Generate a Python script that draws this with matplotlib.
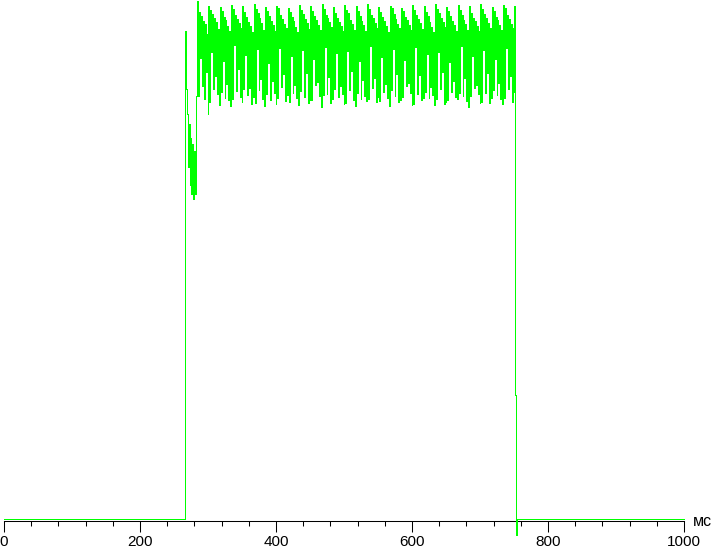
import numpy as np
import matplotlib.pyplot as plt
from matplotlib.ticker import MultipleLocator

plt.rcParams['font.family'] = ['Liberation Sans', 'DejaVu Sans']

# brightness trace, % of max, sampled at 12 points per 60 Hz cycle
rise_ms = 266.0
sample_ms = 16.667 / 12

# first ~18 ms after switch-on
pre_values = [94.2, 83.0, 78.2, 68.0, 76.3, 64.4, 73.6, 62.8, 72.4, 61.8, 71.1, 62.8, 81.7]

# one row per cycle, alternating top / bottom of each sample column
cycle_values = [
    [100.0, 81.7, 97.9, 89.0, 97.1, 83.6, 96.1, 81.1, 95.6, 86.3, 93.6, 78.2],
    [99.0, 80.5, 98.3, 90.2, 97.5, 83.0, 96.8, 85.5, 95.9, 82.1, 94.6, 80.0],
    [98.8, 82.4, 98.0, 88.5, 97.0, 81.2, 96.3, 84.0, 95.2, 80.8, 94.2, 79.8],
    [99.2, 81.0, 98.5, 91.5, 97.3, 82.6, 96.6, 86.8, 95.7, 81.5, 94.8, 80.6],
    [99.0, 83.1, 97.8, 89.6, 96.9, 81.9, 96.0, 83.3, 95.1, 80.2, 94.1, 81.4],
    [99.4, 80.3, 98.4, 90.8, 97.6, 82.8, 96.7, 85.0, 95.8, 81.0, 94.5, 79.7],
    [98.9, 82.0, 98.1, 88.0, 97.2, 80.9, 96.2, 84.6, 95.3, 82.3, 94.3, 80.1],
    [99.1, 81.3, 98.6, 91.0, 97.4, 83.4, 96.5, 85.9, 95.6, 80.7, 94.7, 81.8],
    [98.7, 80.6, 97.9, 89.3, 97.0, 82.2, 96.1, 83.8, 95.0, 81.2, 94.0, 79.9],
    [99.3, 82.7, 98.2, 90.5, 97.5, 81.5, 96.6, 86.2, 95.7, 80.4, 94.6, 80.8],
    [99.0, 80.9, 98.0, 88.8, 97.1, 83.7, 96.3, 84.3, 95.4, 81.7, 94.4, 79.6],
    [99.5, 81.8, 98.5, 91.2, 97.3, 82.0, 96.8, 85.4, 95.9, 80.3, 94.9, 81.1],
    [98.8, 83.0, 97.7, 89.9, 96.8, 81.4, 96.0, 83.6, 95.2, 82.0, 94.2, 80.2],
    [99.2, 80.4, 98.3, 90.3, 97.6, 82.9, 96.4, 86.5, 95.5, 80.9, 94.5, 79.8],
    [99.0, 82.2, 98.1, 88.4, 97.2, 81.1, 96.2, 84.8, 95.3, 81.6, 94.3, 80.7],
    [99.4, 81.1, 98.4, 91.4, 97.4, 83.2, 96.7, 85.2, 95.8, 80.6, 94.8, 81.5],
    [98.9, 80.7, 97.8, 89.1, 96.9, 82.4, 96.1, 83.9, 95.1, 81.3, 94.1, 79.7],
    [99.1, 82.8, 98.6, 90.7, 97.5, 81.7, 96.5, 86.0, 95.6, 80.5, 94.7, 80.9],
    [98.7, 81.4, 98.0, 88.6, 97.0, 83.5, 96.3, 84.1, 95.4, 82.2, 94.4, 80.0],
    [99.3, 80.2, 98.2, 91.1, 97.3, 82.1, 96.6, 85.7, 95.7, 80.8, 94.6, 81.3],
    [99.0, 82.5, 97.9, 89.7, 97.1, 81.3, 96.0, 83.4, 95.0, 81.9, 94.0, 79.9],
    [99.5, 81.0, 98.5, 90.1, 97.6, 83.0, 96.8, 86.3, 95.9, 80.2, 94.9, 80.5],
    [98.8, 80.8, 98.1, 88.2, 97.2, 82.5, 96.2, 84.5, 95.3, 81.4, 94.3, 81.0],
    [99.2, 82.3, 98.3, 91.3, 97.4, 81.6, 96.4, 85.1, 95.5, 80.7, 94.5, 79.6],
    [99.0, 81.6, 97.7, 89.4, 96.8, 83.3, 96.1, 83.7, 95.2, 82.1, 94.2, 80.4],
    [99.4, 80.5, 98.4, 90.6, 97.5, 82.3, 96.7, 86.1, 95.8, 80.3, 94.8, 81.2],
    [98.9, 82.9, 98.0, 88.9, 97.0, 81.8, 96.3, 84.2, 95.4, 81.1, 94.4, 80.1],
    [99.3, 81.2, 98.6, 90.9, 97.3, 83.1, 96.5, 85.6, 95.6, 80.6, 94.7, 82.5],
]

# switch-off with small undershoot
tail_values = [99.0, 23.9, -3.1, 0.0]

values = pre_values + [v for row in cycle_values for v in row] + tail_values
t = rise_ms + np.arange(len(values)) * sample_ms
t = np.concatenate([[0.0], t, [1000.0]])
y = np.concatenate([[0.0], values, [0.0]])

fig = plt.figure(figsize=(7.11, 5.48), dpi=100)
ax = fig.add_axes([4 / 711, (548 - 520.5) / 548, 680 / 711, 520.5 / 548])

ax.plot(t, y, drawstyle='steps-post', color='#00ff00', lw=0.5,
        antialiased=False, clip_on=False, zorder=3)

ax.set_xlim(0, 1000)
ax.set_ylim(-0.3, 100.2)

for side in ['left', 'right', 'top']:
    ax.spines[side].set_visible(False)
ax.spines['bottom'].set_linewidth(0.75)
ax.set_yticks([])

ax.set_xticks(range(0, 1001, 200))
ax.xaxis.set_minor_locator(MultipleLocator(40))
ax.tick_params(axis='x', which='major', length=8, width=0.75, direction='out', pad=2.5, labelsize=11)
ax.tick_params(axis='x', which='minor', length=3.6, width=0.75, direction='out')

fig.text(693 / 711, 1 - 522 / 548, 'мс', ha='left', va='center', fontsize=11.5)

fig.savefig('out.png', dpi=100)
